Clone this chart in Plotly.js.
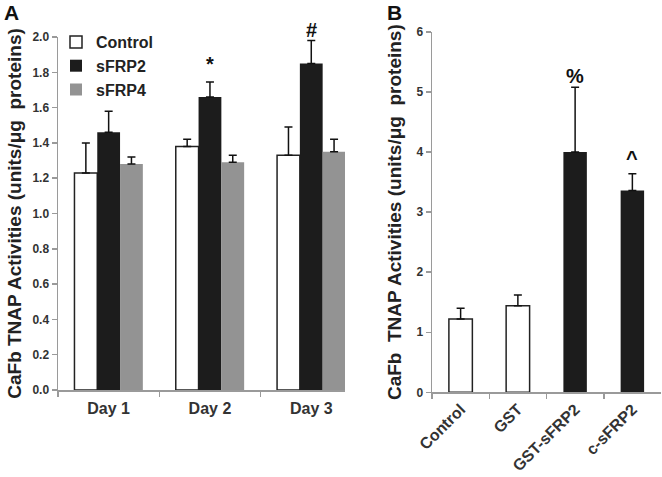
<!DOCTYPE html>
<html>
<head>
<meta charset="utf-8">
<script src="https://cdn.plot.ly/plotly-3.0.1.min.js"></script>
<style>html,body{margin:0;padding:0;background:#fff;}#chart{width:662px;height:477px;}</style>
</head>
<body>
<div id="chart"></div>
<script>
// Panel A data
const days = ['Day 1', 'Day 2', 'Day 3'];
const controlA = [1.23, 1.38, 1.33];
const controlAErr = [0.17, 0.04, 0.16];
const sfrp2A = [1.46, 1.66, 1.85];
const sfrp2AErr = [0.12, 0.085, 0.13];
const sfrp4A = [1.28, 1.29, 1.35];
const sfrp4AErr = [0.04, 0.04, 0.07];
const marksA = ['', '*', '#'];

// Panel B data
const groupsB = ['Control', 'GST', 'GST-sFRP2', 'c-sFRP2'];
const valuesB = [1.22, 1.44, 4.0, 3.36];
const errB = [0.18, 0.18, 1.08, 0.28];
const colorsB = ['#ffffff', '#ffffff', '#1c1c1c', '#1c1c1c'];
const marksB = ['', '', '%', '^'];

const FONT = 'Liberation Sans, Arial, sans-serif';
const AXC = '#9a9a9a';
// glyph-dependent vertical nudges (px) for significance marks
const markShift = {'*': 5, '#': -2, '%': -2, '^': 3};

function errY(arr, w) {
  return {type: 'data', symmetric: false, array: arr, arrayminus: arr.map(() => 0),
          color: '#111', thickness: 1.5, width: w};
}

const traces = [
  {type: 'bar', name: 'Control', x: days, y: controlA, xaxis: 'x', yaxis: 'y',
   marker: {color: '#ffffff', line: {color: '#222', width: 1.5}}, error_y: errY(controlAErr, 4)},
  {type: 'bar', name: 'sFRP2', x: days, y: sfrp2A, xaxis: 'x', yaxis: 'y',
   marker: {color: '#1c1c1c', line: {color: '#1c1c1c', width: 0}}, error_y: errY(sfrp2AErr, 4)},
  {type: 'bar', name: 'sFRP4', x: days, y: sfrp4A, xaxis: 'x', yaxis: 'y',
   marker: {color: '#939393', line: {color: '#939393', width: 0}}, error_y: errY(sfrp4AErr, 4)},
  {type: 'bar', name: 'B', x: groupsB, y: valuesB, xaxis: 'x2', yaxis: 'y2', width: 0.41,
   showlegend: false,
   marker: {color: colorsB, line: {color: '#222', width: colorsB.map(c => c === '#ffffff' ? 1.5 : 0)}},
   error_y: errY(errB, 4)}
];

const markFont = {family: FONT, size: 20, weight: 700, color: '#111'};
const annotations = [];
days.forEach((d, i) => {
  if (marksA[i]) annotations.push({xref: 'x', yref: 'y', x: d, y: sfrp2A[i] + sfrp2AErr[i],
    text: marksA[i], showarrow: false, yanchor: 'bottom', yshift: markShift[marksA[i]], font: markFont});
});
groupsB.forEach((g, i) => {
  if (marksB[i]) annotations.push({xref: 'x2', yref: 'y2', x: g, y: valuesB[i] + errB[i],
    text: marksB[i], showarrow: false, yanchor: 'bottom', yshift: markShift[marksB[i]], font: markFont});
});
annotations.push({xref: 'paper', yref: 'paper', x: 11.5 / 662, y: 1, text: 'A', showarrow: false,
  xanchor: 'center', yanchor: 'top', borderpad: 0, font: {family: FONT, size: 21, weight: 700, color: '#111'}});
annotations.push({xref: 'paper', yref: 'paper', x: 394 / 662, y: 1, text: 'B', showarrow: false,
  xanchor: 'center', yanchor: 'top', borderpad: 0, font: {family: FONT, size: 21, weight: 700, color: '#111'}});

const tickFont = {family: FONT, size: 12, weight: 700, color: '#333'};
const titleFont = {family: FONT, size: 19, weight: 700, color: '#222'};

const layout = {
  width: 662, height: 477,
  margin: {l: 0, r: 0, t: 0, b: 0},
  paper_bgcolor: '#fff', plot_bgcolor: '#fff',
  barmode: 'group', bargap: 0.325, bargroupgap: 0,
  showlegend: true,
  legend: {x: 56 / 662, y: 1 - 25 / 477, xanchor: 'left', yanchor: 'top',
    bgcolor: 'rgba(0,0,0,0)', font: {family: FONT, size: 16, weight: 700, color: '#222'},
    itemwidth: 30, tracegroupgap: 0},
  xaxis: {domain: [58 / 662, 345 / 662], anchor: 'y', type: 'category', range: [-0.5, 2.333],
    showline: true, linecolor: AXC, linewidth: 1.5, ticks: 'outside', tickson: 'boundaries',
    ticklen: 5, tickcolor: AXC, tickwidth: 1.5, showgrid: false, zeroline: false,
    ticklabelstandoff: 3,
    tickfont: {family: FONT, size: 16, weight: 700, color: '#333'}},
  yaxis: {domain: [1 - 390 / 477, 1 - 37 / 477], anchor: 'x', range: [0, 2], dtick: 0.2, tick0: 0,
    tickformat: '.1f', showline: true, linecolor: AXC, linewidth: 1.5, ticks: 'outside',
    ticklen: 5, tickcolor: AXC, tickwidth: 1.5, showgrid: false, zeroline: false, tickfont: tickFont,
    title: {text: 'CaFb TNAP Activities (units/\u03bcg\u00a0 proteins)', font: titleFont, standoff: 6}},
  xaxis2: {domain: [432 / 662, 661 / 662], anchor: 'y2', type: 'category', range: [-0.5, 3.5],
    showline: true, linecolor: AXC, linewidth: 1.5, ticks: 'outside', tickson: 'boundaries',
    ticklen: 5, tickcolor: AXC, tickwidth: 1.5, showgrid: false, zeroline: false, tickangle: -45,
    tickfont: {family: FONT, size: 16, weight: 700, color: '#333'}},
  yaxis2: {domain: [1 - 392.3 / 477, 1 - 32 / 477], anchor: 'x2', range: [0, 6], dtick: 1, tick0: 0,
    showline: true, linecolor: AXC, linewidth: 1.5, ticks: 'outside',
    ticklen: 5, tickcolor: AXC, tickwidth: 1.5, showgrid: false, zeroline: false, tickfont: tickFont,
    title: {text: 'CaFb\u00a0 TNAP Activities (units/\u03bcg\u00a0 proteins)', font: titleFont, standoff: 10}},
  annotations: annotations
};

Plotly.newPlot('chart', traces, layout, {displayModeBar: false, staticPlot: true});
</script>
</body>
</html>
